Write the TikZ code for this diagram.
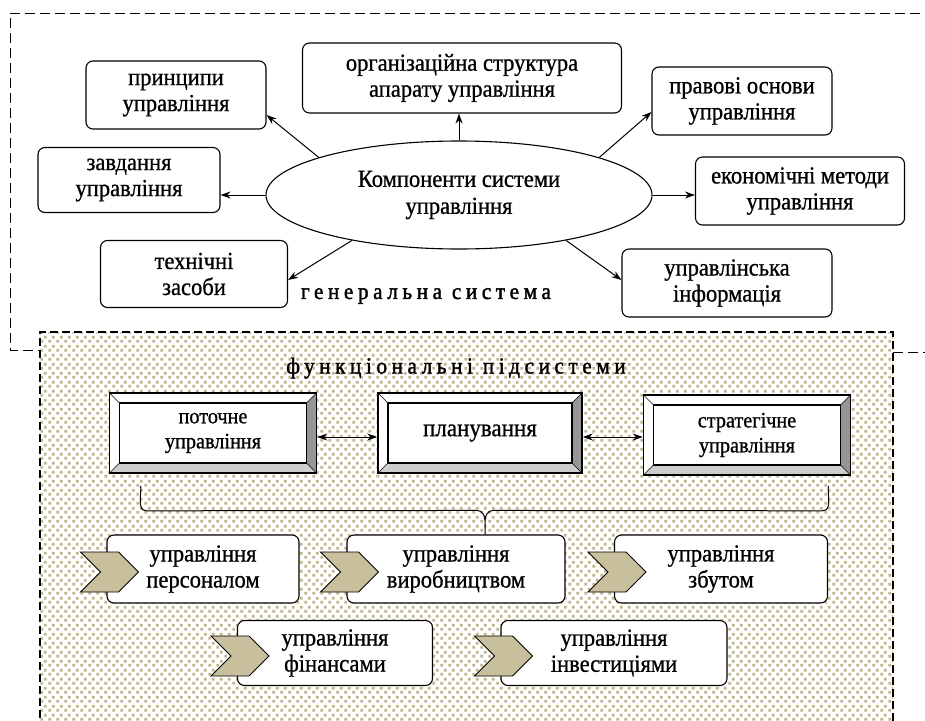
\documentclass[tikz,border=0pt]{standalone}
\usepackage{fontspec}
\setmainfont{Liberation Serif}[FakeStretch=0.92, FakeBold=0.8]
\usetikzlibrary{shapes.geometric,shapes.symbols,arrows.meta,patterns.meta,calc}

\definecolor{dotc}{RGB}{192,181,140}
\definecolor{khaki}{RGB}{200,191,156}
\definecolor{bevdark}{RGB}{150,150,150}
\definecolor{bevlight}{RGB}{205,205,205}

% staggered beige dots for the panel of functional subsystems
\tikzdeclarepattern{
  name=beigedots,
  type=uncolored,
  bounding box={(0pt,0pt) and (8pt,9pt)},
  tile size={(8pt,9pt)},
  code={
    \pgfpathrectangle{\pgfpoint{0.4pt}{0.4pt}}{\pgfpoint{3pt}{3pt}}
    \pgfpathrectangle{\pgfpoint{4.4pt}{4.9pt}}{\pgfpoint{3pt}{3pt}}
    \pgfusepath{fill}
  }
}

\begin{document}
\begin{tikzpicture}[x=1pt,y=-1pt,
  box/.style={draw, line width=1.1pt, rounded corners=7pt, fill=white,
    align=center, inner sep=0pt, font=\fontsize{24.5}{26}\selectfont},
  arr/.style={-{Stealth[length=10pt,width=7pt]}, line width=1pt},
  darr/.style={{Stealth[length=10pt,width=7pt]}-{Stealth[length=10pt,width=7pt]}, line width=1pt},
  outerdash/.style={line width=1pt, dash pattern=on 10pt off 5pt},
  paneldash/.style={line width=2.4pt, dash pattern=on 8pt off 4pt},
  spaced/.style={font=\fontsize{23}{26}\selectfont\addfontfeature{LetterSpace=20, FakeBold=1.6}},
  bevel/.style={draw, line width=1.6pt, fill=white, minimum width=207,
    minimum height=80, inner sep=0pt, align=center,
    path picture={
      \fill[bevdark] (path picture bounding box.north east)
        -- (path picture bounding box.south east)
        -- ($(path picture bounding box.south east)+(-10,-10)$)
        -- ($(path picture bounding box.north east)+(-10,10)$) -- cycle;
      \fill[bevlight] (path picture bounding box.south west)
        -- (path picture bounding box.south east)
        -- ($(path picture bounding box.south east)+(-10,-10)$)
        -- ($(path picture bounding box.south west)+(10,-10)$) -- cycle;
      \draw[line width=1.3pt] ($(path picture bounding box.north west)+(10,10)$)
        rectangle ($(path picture bounding box.south east)+(-10,-10)$);
      \draw[line width=0.5pt]
        (path picture bounding box.north west) -- ++(10,10)
        (path picture bounding box.north east) -- ++(-10,10)
        (path picture bounding box.south east) -- ++(-10,-10)
        (path picture bounding box.south west) -- ++(10,-10);
    }},
  chev/.style={signal, signal from=west, signal to=east, signal pointer angle=90,
    fill=khaki, draw, line width=0.8pt, minimum width=58, minimum height=40,
    inner sep=0pt}
]
\useasboundingbox (0,0) rectangle (925,720);
\clip (0,0) rectangle (925,720);
\fill[white] (0,0) rectangle (925,720);

% frame of the general system
\draw[outerdash] (935,13) -- (10,13) -- (10,350) -- (40,350);
\draw[outerdash] (893,352) -- (935,352);

% panel of the functional subsystems
\fill[white] (40,332) rectangle (893,730);
\fill[pattern=beigedots, pattern color=dotc] (40,332) rectangle (893,730);
\draw[paneldash] (40,730) -- (40,332) -- (893,332) -- (893,730);

% general system
\node[draw, ellipse, line width=1.1pt, fill=white, minimum width=386, minimum height=108,
  align=center, inner sep=0pt, font=\fontsize{24.5}{27}\selectfont]
  (ell) at (459,195) {Компоненти системи\\управління};

\node[box, minimum width=180, minimum height=68] (pr) at (176,95) {принципи\\управління};
\node[box, minimum width=319, minimum height=70] (org) at (462,78) {організаційна структура\\апарату управління};
\node[box, minimum width=180, minimum height=68] (prav) at (742,101) {правові основи\\управління};
\node[box, minimum width=182, minimum height=65] (zavd) at (129,180) {завдання\\управління};
\node[box, minimum width=209, minimum height=68] (econ) at (800,191) {економічні методи\\управління};
\node[box, minimum width=187, minimum height=67] (tech) at (194,274) {технічні\\засоби};
\node[box, minimum width=210, minimum height=68] (info) at (727,283) {управлінська\\інформація};

\node[spaced] (gen) at (426,296) {генеральна система};

\draw[arr] (ell.165) -- ($(pr.east)+(0,20)$);
\draw[arr] (ell.north) -- (ell.north |- org.south);
\draw[arr] (ell.15.5) -- ($(prav.west)+(0,11)$);
\draw[arr] (ell.west) -- (ell.west -| zavd.east);
\draw[arr] (ell.east) -- (ell.east -| econ.west);
\draw[arr] (ell.203) -- ($(tech.east)+(0,6)$);
\draw[arr] (ell.337.4) -- ($(info.west)+(0,-3)$);

% functional subsystems
\node[spaced] (func) at (456,368) {функціональні підсистеми};

\node[bevel, font=\fontsize{22}{25}\selectfont] (cur) at (213,433) {поточне\\управління};
\node[bevel, minimum width=204, font=\fontsize{25}{27}\selectfont] (plan) at (480,433) {планування};
\node[bevel, font=\fontsize{22}{25}\selectfont] (strat) at (747,435) {стратегічне\\управління};

\draw[darr] ($(cur.east)+(0,4)$) -- ($(plan.west)+(0,4)$);
\draw[darr] ($(plan.east)+(0,4)$) -- ($(strat.west)+(0,2)$);

\node[box, minimum width=192, minimum height=68] (pers) at (203,569) {управління\\персоналом};
\node[box, minimum width=218, minimum height=68] (vir) at (456,569) {управління\\виробництвом};
\node[box, minimum width=213, minimum height=68] (zbut) at (721,569) {управління\\збутом};
\node[box, minimum width=195, minimum height=65] (fin) at (335,653) {управління\\фінансами};
\node[box, minimum width=226, minimum height=65] (inv) at (614,653) {управління\\інвестиціями};

\node[chev] (c1) at ($(pers.west)+(3,3)$) {};
\node[chev] (c2) at ($(vir.west)+(3,3)$) {};
\node[chev] (c3) at ($(zbut.west)+(3,3)$) {};
\node[chev] (c4) at ($(fin.west)+(3,3)$) {};
\node[chev] (c5) at ($(inv.west)+(3,3)$) {};

% brace joining the management levels to the subsystems
\coordinate (bl) at ($(cur.south west)+(32,12)$);
\coordinate (br) at ($(strat.south east)+(-23,10)$);
\coordinate (bm) at ($(vir.north)+(29,-14)$);
\draw[line width=1pt] (bl) to[out=-85,in=180] ++(6,25) -- ($(bm)+(-8,-10)$)
  to[out=0,in=90] (bm) -- (bm |- vir.north);
\draw[line width=1pt] (br) to[out=-95,in=0] ++(-6,25) -- ($(bm)+(8,-10)$)
  to[out=180,in=90] (bm);
\end{tikzpicture}
\end{document}
